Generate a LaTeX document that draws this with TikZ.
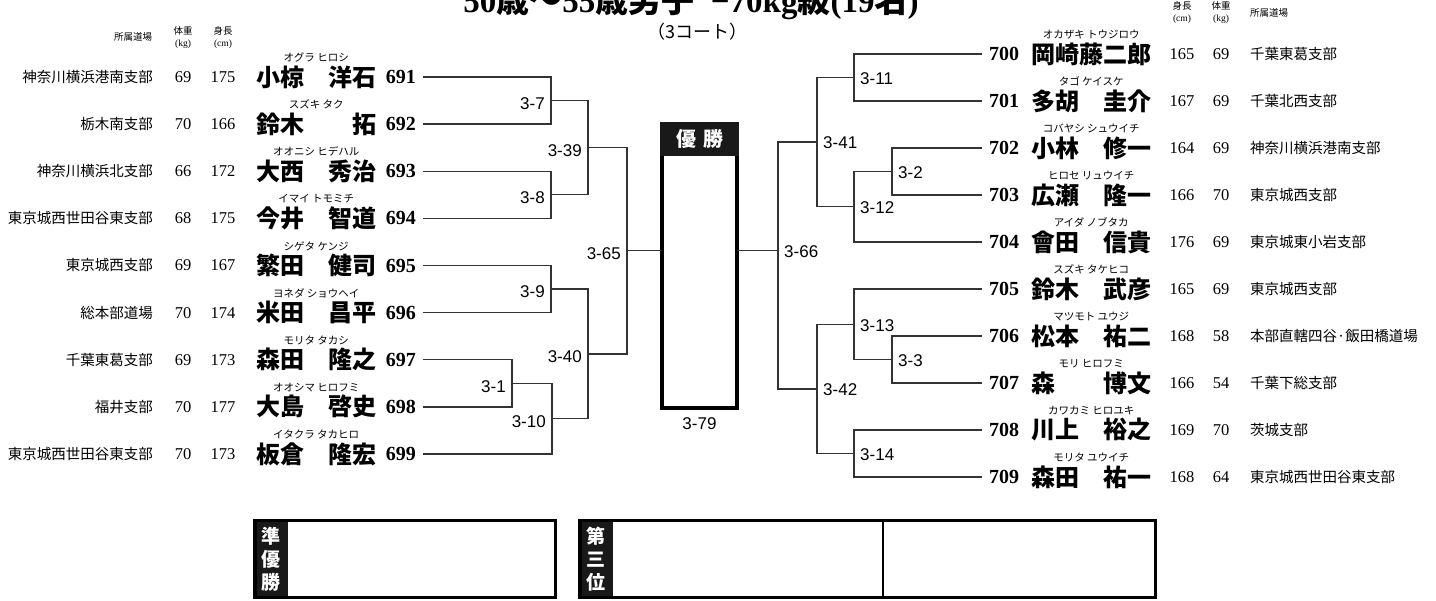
\documentclass[tikz,border=0pt]{standalone}
\usepackage{fontspec}
\setmainfont{Liberation Serif}
\setsansfont{Liberation Sans}
\newfontfamily\jp{Noto Sans CJK JP}
\usetikzlibrary{positioning}
\newcommand\jpb[1]{{\jp\bfseries #1}}

\begin{document}
\begin{tikzpicture}[x=1pt, y=-1pt,
  dojo/.style={font=\jp\fontsize{14.5}{16}\selectfont, inner sep=0pt},
  stat/.style={font=\fontsize{16.5}{18}\selectfont, inner sep=0pt},
  colhead/.style={font=\jp\fontsize{9.5}{12}\selectfont, inner sep=0pt, align=center},
  seed/.style={font=\bfseries\fontsize{20}{21}\selectfont, inner sep=0pt, inner xsep=7pt},
  entrant/.style={font=\jp\bfseries\fontsize{24}{26}\selectfont, inner sep=0pt},
  kana/.style={font=\jp\fontsize{10.5}{11}\selectfont, inner sep=0pt},
  bout/.style={font=\sffamily\fontsize{17}{18}\selectfont, inner sep=1pt},
  bracket/.style={line width=1.4pt, draw=black!80},
  podium/.style={draw, line width=3.5pt, inner sep=0pt, outer sep=0pt},
  strip/.style={fill=black!90, text=white, inner sep=0pt, align=center, font=\jp\bfseries\fontsize{19}{23}\selectfont}]
  \useasboundingbox (0,0) rectangle (1436,601);

  \node[anchor=base, font=\bfseries\fontsize{33}{34}\selectfont, inner sep=0pt] (title) at (691,12.5)
    {50\jpb{歳〜}55\jpb{歳男子}\hspace{0.5em}−70kg\jpb{級}(19\jpb{名})};
  \node[font=\jp\fontsize{18}{19}\selectfont, inner sep=0pt] (court) at (697,32) {（3コート）};

  \node[colhead] (hdojoL) at (133,37) {所属道場};
  \node[colhead] (hwtL) at (183,38) {体重\\{\rmfamily(kg)}};
  \node[colhead] (htallL) at (223,38) {身長\\{\rmfamily(cm)}};
  \node[colhead] (htallR) at (1182,13) {身長\\{\rmfamily(cm)}};
  \node[colhead] (hwtR) at (1221,13) {体重\\{\rmfamily(kg)}};
  \node[colhead, anchor=west] (hdojoR) at (1250,13) {所属道場};

  \foreach \seedno/\sei/\mei/\kana/\wt/\tall/\dojo [count=\i from 0] in {
    691/小椋/洋石/オグラ ヒロシ/69/175/神奈川横浜港南支部,
    692/鈴木/拓/スズキ タク/70/166/栃木南支部,
    693/大西/秀治/オオニシ ヒデハル/66/172/神奈川横浜北支部,
    694/今井/智道/イマイ トモミチ/68/175/東京城西世田谷東支部,
    695/繁田/健司/シゲタ ケンジ/69/167/東京城西支部,
    696/米田/昌平/ヨネダ ショウヘイ/70/174/総本部道場,
    697/森田/隆之/モリタ タカシ/69/173/千葉東葛支部,
    698/大島/啓史/オオシマ ヒロフミ/70/177/福井支部,
    699/板倉/隆宏/イタクラ タカヒロ/70/173/東京城西世田谷東支部} {
    \pgfmathsetmacro\y{77+47.125*\i}
    \node[dojo, anchor=east] (d\seedno) at (153,\y) {\dojo};
    \node[stat] (w\seedno) at (183,\y) {\wt};
    \node[stat] (h\seedno) at (223,\y) {\tall};
    \node[entrant, anchor=west] (e\seedno) at (256,\y) {\makebox[120pt]{\sei\hfill\mei}};
    \node[kana, above=3pt of e\seedno] (k\seedno) {\kana};
    \node[seed, anchor=east] (n\seedno) at (423,\y) {\seedno};
  }

  \foreach \seedno/\sei/\mei/\kana/\wt/\tall/\dojo [count=\i from 0] in {
    700/岡崎藤二郎//オカザキ トウジロウ/69/165/千葉東葛支部,
    701/多胡/圭介/タゴ ケイスケ/69/167/千葉北西支部,
    702/小林/修一/コバヤシ シュウイチ/69/164/神奈川横浜港南支部,
    703/広瀬/隆一/ヒロセ リュウイチ/70/166/東京城西支部,
    704/會田/信貴/アイダ ノブタカ/69/176/東京城東小岩支部,
    705/鈴木/武彦/スズキ タケヒコ/69/165/東京城西支部,
    706/松本/祐二/マツモト ユウジ/58/168/本部直轄四谷·飯田橋道場,
    707/森/博文/モリ ヒロフミ/54/166/千葉下総支部,
    708/川上/裕之/カワカミ ヒロユキ/70/169/茨城支部,
    709/森田/祐一/モリタ ユウイチ/64/168/東京城西世田谷東支部} {
    \pgfmathsetmacro\y{54+47*\i}
    \node[seed, anchor=west] (n\seedno) at (982,\y) {\seedno};
    \node[entrant, anchor=west] (e\seedno) at (1031,\y) {\makebox[120pt]{\sei\hfill\mei}};
    \node[kana, above=3pt of e\seedno] (k\seedno) {\kana};
    \node[stat] (h\seedno) at (1182,\y) {\tall};
    \node[stat] (w\seedno) at (1221,\y) {\wt};
    \node[dojo, anchor=west] (d\seedno) at (1250,\y) {\dojo};
  }

  \node[draw, line width=4pt, minimum width=75pt, minimum height=284pt, inner sep=0pt, outer sep=0pt] (champ) at (699.5,266) {};
  \node[fill=black!90, text=white, inner sep=0pt, minimum width=79pt, minimum height=34pt, anchor=north,
    font=\jp\bfseries\fontsize{20}{20}\selectfont] (yusho) at ([yshift=2pt]champ.north) {優\hspace{7pt}勝};
  \node[bout, below=8pt of champ] (final) {3-79};

  \coordinate (m7) at (551,100.6);
  \coordinate (m8) at (551,194.8);
  \coordinate (m39) at (588,147.7);
  \coordinate (m9) at (551,289);
  \coordinate (m1) at (512,383.3);
  \coordinate (m10) at (552,418.7);
  \coordinate (m40) at (588,353.9);
  \coordinate (m65) at (627,250.8);
  \coordinate (m11) at (854,77.5);
  \coordinate (m2) at (892,171.5);
  \coordinate (m12) at (854,206.8);
  \coordinate (m41) at (817,142.1);
  \coordinate (m3) at (892,359.5);
  \coordinate (m13) at (854,324.3);
  \coordinate (m14) at (854,453.5);
  \coordinate (m42) at (817,388.9);
  \coordinate (m66) at (778,250.8);

  \draw[bracket] (n691.east) -| (m7) |- (n692.east);
  \draw[bracket] (n693.east) -| (m8) |- (n694.east);
  \draw[bracket] (n695.east) -| (m9) |- (n696.east);
  \draw[bracket] (n697.east) -| (m1) |- (n698.east);
  \draw[bracket] (m1) -| (m10) |- (n699.east);
  \draw[bracket] (m7) -| (m39) |- (m8);
  \draw[bracket] (m9) -| (m40) |- (m10);
  \draw[bracket] (m39) -| (m65) |- (m40);
  \draw[bracket] (m65) -- (champ.west |- m65);

  \draw[bracket] (n700.west) -| (m11) |- (n701.west);
  \draw[bracket] (n702.west) -| (m2) |- (n703.west);
  \draw[bracket] (m2) -| (m12) |- (n704.west);
  \draw[bracket] (n705.west) -| (m13) |- (m3);
  \draw[bracket] (n706.west) -| (m3) |- (n707.west);
  \draw[bracket] (n708.west) -| (m14) |- (n709.west);
  \draw[bracket] (m11) -| (m41) |- (m12);
  \draw[bracket] (m13) -| (m42) |- (m14);
  \draw[bracket] (m41) -| (m66) |- (m42);
  \draw[bracket] (m66) -- (champ.east |- m66);

  \foreach \m/\t in {m7/3-7, m8/3-8, m9/3-9, m1/3-1, m10/3-10, m39/3-39, m40/3-40, m65/3-65}
    \node[bout, left=5pt of \m, yshift=-3pt] (t\m) {\t};
  \foreach \m/\t in {m11/3-11, m2/3-2, m12/3-12, m41/3-41, m3/3-3, m13/3-13, m14/3-14, m42/3-42, m66/3-66}
    \node[bout, right=5pt of \m, yshift=-1pt] (t\m) {\t};

  \node[strip, minimum width=35pt, minimum height=80pt, anchor=north west] (junyuT) at (253,519) {準\\優\\勝};
  \node[podium, minimum width=300.5pt, minimum height=76.5pt] (junyu) at (405,559) {};
  \node[strip, minimum width=35pt, minimum height=80pt, anchor=north west] (sanniT) at (578,519) {第\\三\\位};
  \node[podium, minimum width=575.5pt, minimum height=76.5pt] (sanni) at (867.5,559) {};
  \coordinate (split) at (883,559);
  \draw[line width=1.5pt] (split |- sanni.north) -- (split |- sanni.south);
\end{tikzpicture}
\end{document}
